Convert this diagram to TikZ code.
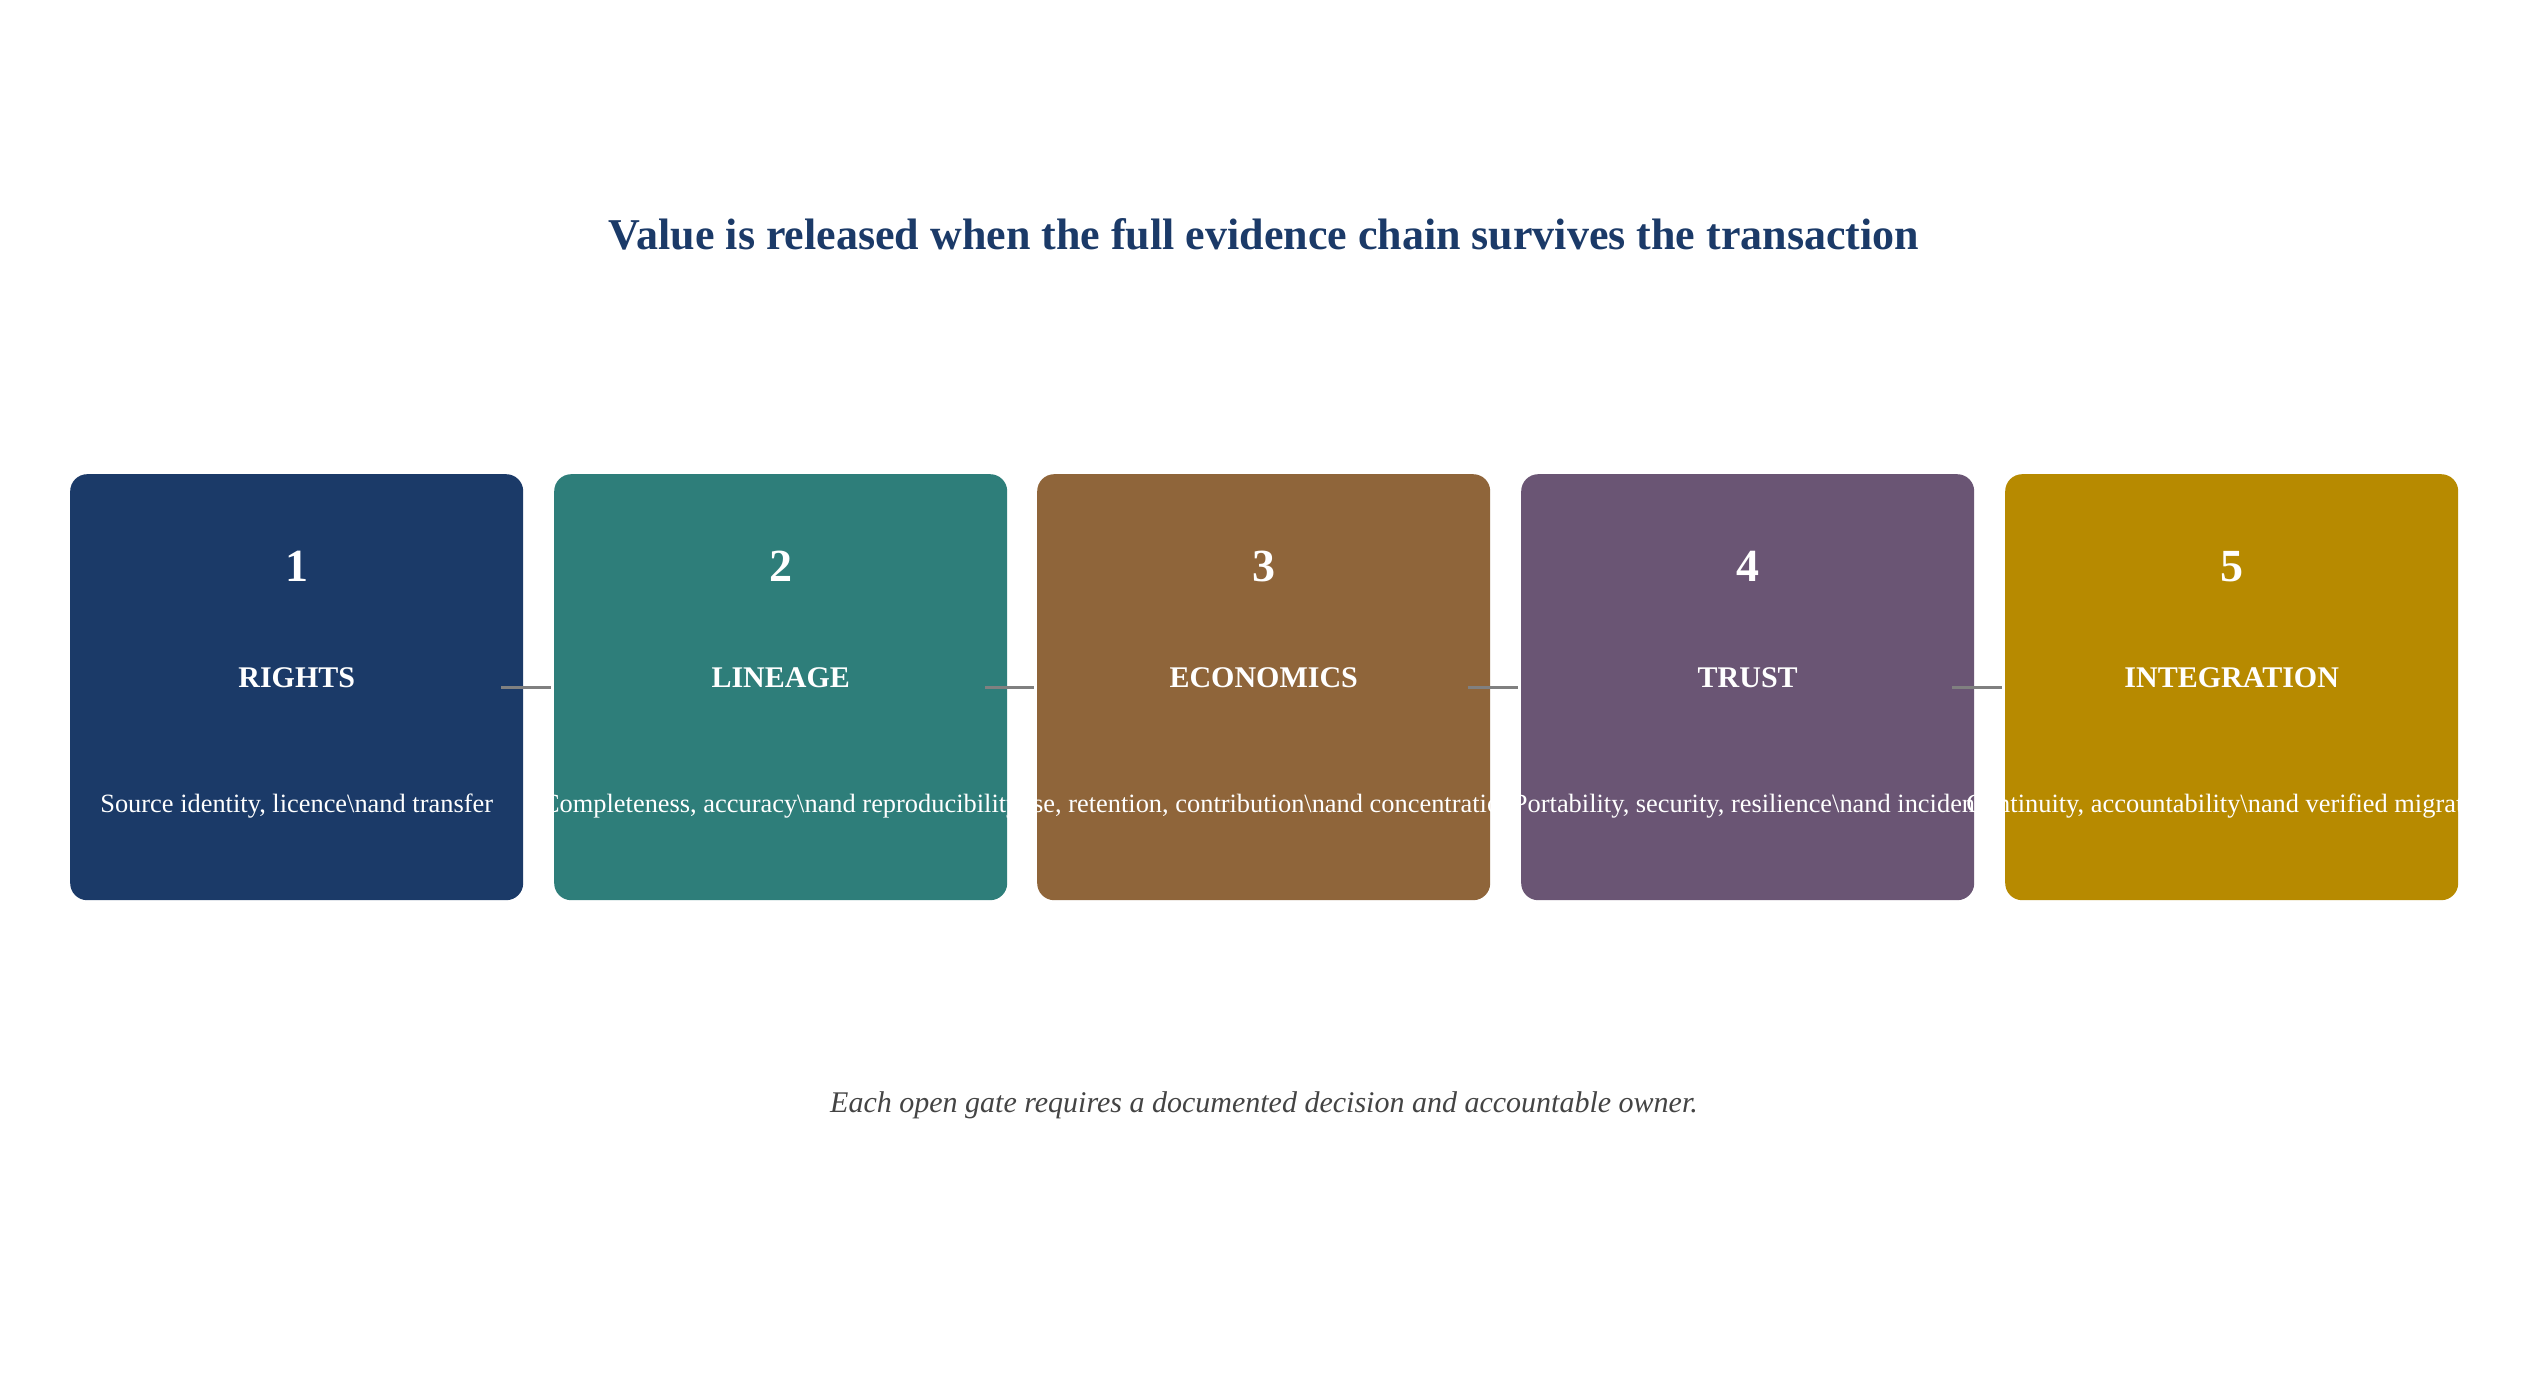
\documentclass[tikz,border=0pt]{standalone}
\usepackage{fontspec}
\setmainfont{Liberation Serif}
\usetikzlibrary{calc}
\definecolor{cnavy}{HTML}{1B3A68}
\definecolor{cteal}{HTML}{2E7E7A}
\definecolor{cbrown}{HTML}{8F653A}
\definecolor{cpurple}{HTML}{6A5574}
\definecolor{cgold}{HTML}{B78A00}
\definecolor{cfoot}{HTML}{444444}
\definecolor{cline}{HTML}{808080}
\tikzset{
  gatebox/.style={fill=#1, draw=none, rounded corners=17pt, minimum width=453pt, minimum height=426pt, inner sep=0pt, anchor=north west},
  gatenum/.style={text=white, font=\fontsize{46}{50}\selectfont\bfseries, anchor=base, inner sep=0pt},
  gatelab/.style={text=white, font=\fontsize{30}{34}\selectfont\bfseries, anchor=base, inner sep=0pt},
  gatedesc/.style={text=white, font=\fontsize{26.4}{30}\selectfont, anchor=base, inner sep=0pt},
  link/.style={draw=cline, line width=3pt},
}
\begin{document}
\begin{tikzpicture}[x=1pt,y=-1pt]
\useasboundingbox[fill=white] (0,0) rectangle (2528,1375);
\node[text=cnavy, font=\fontsize{44}{50}\selectfont\bfseries, anchor=base, inner sep=0pt] (title) at (1264,250) {Value is released when the full evidence chain survives the transaction};
\foreach \i/\x/\col/\lab/\desc in {
  1/70/cnavy/RIGHTS/{Source identity, licence\textbackslash nand transfer},
  2/554/cteal/LINEAGE/{Completeness, accuracy\textbackslash nand reproducibility},
  3/1037/cbrown/ECONOMICS/{Use, retention, contribution\textbackslash nand concentration},
  4/1521/cpurple/TRUST/{Portability, security, resilience\textbackslash nand incident},
  5/2005/cgold/INTEGRATION/{Continuity, accountability\textbackslash nand verified migration}}{
  \node[gatebox=\col] (b\i) at (\x,474) {};
  \node[gatenum] (n\i) at ($(b\i.north)+(0,107)$) {\i};
  \node[gatelab] (l\i) at ($(b\i.north)+(0,213)$) {\lab};
  \node[gatedesc] (d\i) at ($(b\i.north)+(0,338)$) {\desc};
}
\foreach \i/\j in {1/2,2/3,3/4,4/5}{
  \coordinate (s\i) at ($(b\i.east)+(-22,0)$);
  \coordinate (e\i) at ($(b\j.west)+(-3,0)$);
  \draw[link] (s\i) -- (e\i);
}
\node[text=cfoot, font=\fontsize{30}{34}\selectfont\itshape, anchor=base, inner sep=0pt] (foot) at (1264,1112) {Each open gate requires a documented decision and accountable owner.};
\end{tikzpicture}
\end{document}
